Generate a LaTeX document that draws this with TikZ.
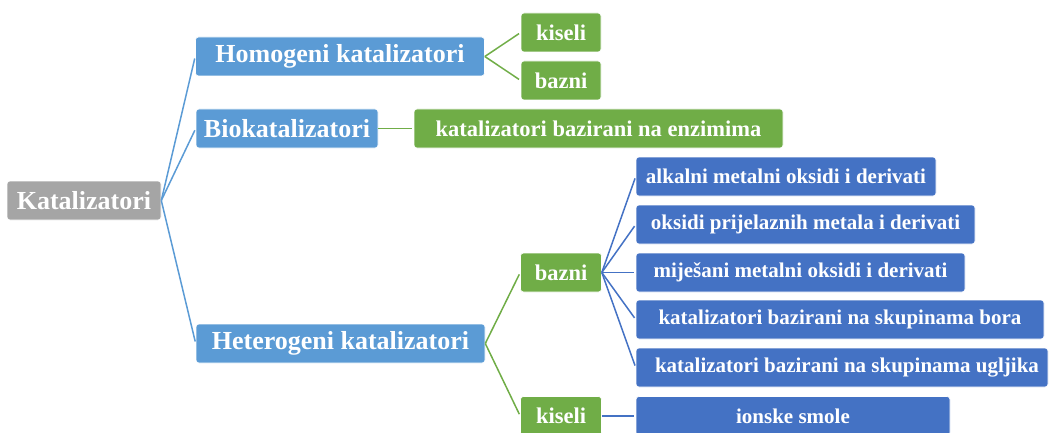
\documentclass[tikz,border=0pt]{standalone}
\usepackage{fontspec}
\setmainfont{Liberation Serif}
\definecolor{cgray}{HTML}{A5A5A5}
\definecolor{clblue}{HTML}{5B9BD5}
\definecolor{cgreen}{HTML}{70AD47}
\definecolor{cdblue}{HTML}{4472C4}
\tikzset{
  box/.style={rectangle, rounded corners=3pt, draw=white, line width=0.6pt, inner sep=0pt, minimum height=39pt, text=white, font=\bfseries},
  big/.style={box, font=\fontsize{26}{28}\selectfont\bfseries},
  mid/.style={box, font=\fontsize{22.5}{24}\selectfont\bfseries},
  small/.style={box, font=\fontsize{21}{23}\selectfont\bfseries},
  graybox/.style={big, fill=cgray},
  lbbox/.style={big, fill=clblue},
  grbox/.style={mid, fill=cgreen},
  dbbox/.style={small, fill=cdblue},
  lbline/.style={draw=clblue, line width=1.5pt, shorten >=2pt},
  grline/.style={draw=cgreen, line width=1.5pt, shorten >=2pt},
  dbline/.style={draw=cdblue, line width=1.5pt, shorten >=2pt},
}
\begin{document}
\begin{tikzpicture}[x=1pt,y=-1pt]
\useasboundingbox (0,0) rectangle (1049,433);
% level 0
\node[graybox, minimum width=154pt] (kat) at (84,200.5) {Katalizatori};
% level 1
\node[lbbox, minimum width=289pt] (hom) at (340,56.5) {Homogeni katalizatori};
\node[lbbox, minimum width=182pt] (bio) at (287,128.5) {Biokatalizatori};
\node[lbbox, minimum width=289pt] (het) at (340.5,343.5) {Heterogeni katalizatori};
% level 2
\node[grbox, minimum width=80pt] (hk) at (561,32.5) {kiseli};
\node[grbox, minimum width=80pt] (hb) at (561,80.5) {bazni};
\node[grbox, minimum width=369pt] (enz) at (598.5,128.5) {katalizatori bazirani na enzimima};
\node[grbox, minimum width=81pt] (hb2) at (561,272.5) {bazni};
\node[grbox, minimum width=81pt] (hk2) at (561,416) {kiseli};
% level 3
\node[dbbox, minimum width=300pt] (alk) at (786,176.5) {alkalni metalni oksidi i derivati};
\node[dbbox, minimum width=339pt] (oks) at (805.5,224.5) {oksidi prijelaznih metala i derivati};
\node[dbbox, minimum width=329pt] (mij) at (800.5,272.5) {miješani metalni oksidi i derivati};
\node[dbbox, minimum width=408pt] (bor) at (840,319.5) {katalizatori bazirani na skupinama bora};
\node[dbbox, minimum width=412pt] (ugl) at (842,367.5) {\hspace*{10pt}katalizatori bazirani na skupinama ugljika};
\node[dbbox, minimum width=314pt] (ion) at (793,416) {ionske smole};
% connectors
\draw[lbline] (kat.east) -- (hom.west);
\draw[lbline] (kat.east) -- (bio.west);
\draw[lbline] (kat.east) -- (het.west);
\draw[grline] (hom.east) -- (hk.west);
\draw[grline] (hom.east) -- (hb.west);
\draw[grline] (bio.east) -- (enz.west);
\draw[grline] (het.east) -- (hb2.west);
\draw[grline] (het.east) -- (hk2.west);
\draw[dbline] (hb2.east) -- (alk.west);
\draw[dbline] (hb2.east) -- (oks.west);
\draw[dbline] (hb2.east) -- (mij.west);
\draw[dbline] (hb2.east) -- (bor.west);
\draw[dbline] (hb2.east) -- (ugl.west);
\draw[dbline] (hk2.east) -- (ion.west);
\end{tikzpicture}
\end{document}
